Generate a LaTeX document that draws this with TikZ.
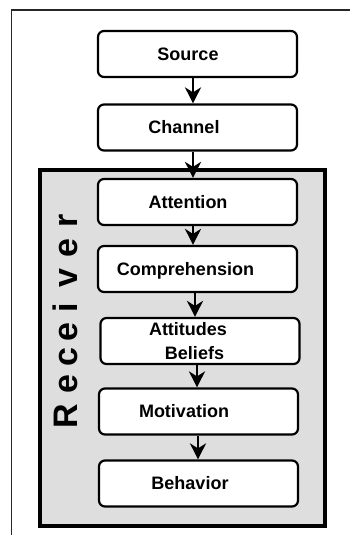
\documentclass[tikz,border=0pt]{standalone}
\usepackage{fontspec}
\setmainfont{Liberation Sans}
\usetikzlibrary{arrows.meta, positioning}
\tikzset{>={Stealth[length=16pt,width=16pt,inset=5pt]}}

\begin{document}
\begin{tikzpicture}[x=1pt,y=-1pt,
  stage/.style={draw, line width=2.2pt, rounded corners=6pt, fill=white,
    minimum width=199pt, minimum height=46pt, inner sep=0pt},
  flow/.style={->, line width=2.6pt},
  letter/.style={rotate=90, anchor=base, inner sep=0pt,
    font=\fontsize{34}{38}\selectfont\bfseries},
  every label/.style={font=\fontsize{18}{24}\selectfont\bfseries, inner sep=0pt}]
\useasboundingbox (0,0) rectangle (350,535);
% outer frame (cut off at right and bottom)
\draw[line width=1.5pt, black!85] (350,10) -- (11.5,10) -- (11.5,535);
% receiver block
\draw[line width=4pt, fill=black!13] (39.5,170) rectangle (324.5,525.5);
\foreach \ch/\pos [count=\i] in {R/416, e/384, c/357.5, e/332, i/308, v/278, e/248, r/221}
  \node[letter] (rcv\i) at (77.5,\pos) {\ch};
% stages
\node[stage, label={[xshift=-9.5pt]center:Source}] (source) at (197.5,54) {};
\node[stage, label={[xshift=-13.5pt]center:Channel}] (channel) at (197.5,127.5) {};
\node[stage, label={[xshift=-9.5pt]center:Attention}] (attention) at (197.5,202) {};
\node[stage, label={[xshift=-12pt,yshift=-2pt]center:Comprehension}] (comprehension) at (197.5,269) {};
\node[stage, label={[xshift=-12pt,align=center]center:Attitudes\\\hspace*{13pt}Beliefs}] (attitudes) at (200,341) {};
\node[stage, label={[xshift=-14.5pt]center:Motivation}] (motivation) at (198.5,411.5) {};
\node[stage, label={[xshift=-8.5pt]center:Behavior}] (behavior) at (198.5,483.5) {};
% arrows
\draw[flow] ([xshift=-4.5pt]source.south) -- ([xshift=-4.5pt]channel.north);
\draw[flow] ([xshift=-4.5pt]channel.south) -- ([xshift=-4.5pt]attention.north);
\draw[flow] ([xshift=-4.5pt]attention.south) -- ([xshift=-4.5pt]comprehension.north);
\draw[flow] ([xshift=-2.5pt]comprehension.south) -- ([xshift=-5pt]attitudes.north);
\draw[flow] ([xshift=-3pt]attitudes.south) -- ([xshift=-1.5pt]motivation.north);
\draw[flow] ([xshift=-0.5pt]motivation.south) -- ([xshift=-0.5pt]behavior.north);
\end{tikzpicture}
\end{document}
